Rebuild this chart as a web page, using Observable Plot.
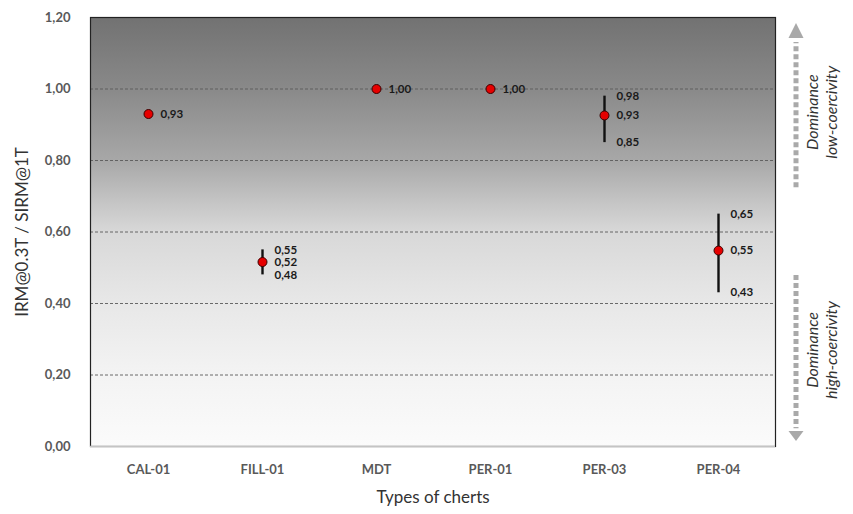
<!DOCTYPE html>
<html><head><meta charset="utf-8">
<script src="https://cdn.jsdelivr.net/npm/d3@7"></script>
<script src="https://cdn.jsdelivr.net/npm/@observablehq/plot@0.6"></script>
<style>body{margin:0;background:#fff;font-family:Lato,"Open Sans",sans-serif;}</style>
</head><body><div id="chart"></div>
<script>
const categories = ["CAL-01","FILL-01","MDT","PER-01","PER-03","PER-04"];
const means = [0.93, 0.516, 1.00, 1.00, 0.926, 0.548];
const meanLabels = ["0,93","0,52","1,00","1,00","0,93","0,55"];
const lows = [null, 0.48, null, null, 0.85, 0.43];
const highs = [null, 0.55, null, null, 0.98, 0.65];
const lowLabels = [null, "0,48", null, null, "0,85", "0,43"];
const highLabels = [null, "0,55", null, null, "0,98", "0,65"];
const yTicks = [0, 0.2, 0.4, 0.6, 0.8, 1.0, 1.2];
const gridTicks = [0.2, 0.4, 0.6, 0.8, 1.0];
const zoneTexts = ["Dominance\nlow-coercivity", "Dominance\nhigh-coercivity"];
const zoneCenters = [0.935, 0.27];
// arrows: [dash start, dash end, head base, head tip]
const arrowUp = [0.724, 1.13, 1.141, 1.183];
const arrowDown = [0.478, 0.05, 0.042, 0.014];

const data = categories.map((c, i) => ({cat: c, mean: means[i], label: meanLabels[i], low: lows[i], high: highs[i], lowLabel: lowLabels[i], highLabel: highLabels[i]}));
const bars = data.filter(d => d.low != null);
const zones = zoneTexts.map((t, i) => ({text: t, y: zoneCenters[i]}));

const fmt = d => d.toFixed(2).replace(".", ",");

const gradientDefs = () => {
  const defs = d3.create("svg:defs");
  const g = defs.append("linearGradient").attr("id", "bg").attr("x1", 0).attr("x2", 0).attr("y1", 0).attr("y2", 1);
  [[0, "#727272"], [0.165, "#898989"], [0.33, "#a7a7a7"], [0.435, "#c6c6c6"], [0.5, "#d8d8d8"], [0.67, "#e8e8e8"], [0.83, "#f3f3f3"], [1, "#fbfbfb"]]
    .forEach(([o, c]) => g.append("stop").attr("offset", o).attr("stop-color", c));
  return defs.node();
};

const arrows = (index, scales, values, dimensions) => {
  const {width, marginRight} = dimensions;
  const x = width - marginRight + 21;
  const y = scales.y;
  const g = d3.create("svg:g");
  const col = "#a9a9a9";
  for (const a of [arrowUp, arrowDown]) {
    g.append("line").attr("x1", x).attr("x2", x).attr("y1", y(a[0])).attr("y2", y(a[1]))
      .attr("stroke", col).attr("stroke-width", 5).attr("stroke-dasharray", "5,3");
    g.append("path").attr("d", `M${x - 7.5},${y(a[2])}L${x + 7.5},${y(a[2])}L${x},${y(a[3])}Z`).attr("fill", col);
  }
  return g.node();
};

const chart = Plot.plot({
  width: 853,
  height: 514,
  marginLeft: 90,
  marginRight: 78,
  marginTop: 17,
  marginBottom: 68,
  style: {fontFamily: "Lato, 'Open Sans', sans-serif", background: "#fff"},
  x: {type: "band", domain: categories, padding: 0},
  y: {domain: [0, 1.2]},
  marks: [
    gradientDefs,
    Plot.frame({fill: "url(#bg)"}),
    Plot.ruleY(gridTicks, {stroke: "#5a5a5a", strokeWidth: 0.9, strokeDasharray: "3,2"}),
    Plot.frame({stroke: "#222", strokeWidth: 1.2}),
    Plot.ruleY([0], {stroke: "#c4c4c4", strokeWidth: 1.5}),
    Plot.axisY({ticks: yTicks, tickFormat: fmt, tickSize: 0, tickPadding: 20, fontWeight: "bold", fontSize: 13, color: "#595959", label: null}),
    Plot.axisX({tickSize: 0, tickPadding: 18, fontWeight: "bold", fontSize: 13, color: "#595959", label: null}),
    Plot.text(["IRM@0.3T / SIRM@1T"], {frameAnchor: "left", textAnchor: "middle", dx: -68, rotate: -90, fontSize: 17, fill: "#333"}),
    Plot.text(["Types of cherts"], {frameAnchor: "bottom", textAnchor: "middle", dy: 56, fontSize: 17, fill: "#333"}),
    Plot.ruleX(bars, {x: "cat", y1: "low", y2: "high", stroke: "#111", strokeWidth: 2.4}),
    Plot.dot(data, {x: "cat", y: "mean", r: 4.5, fill: "#e60000", stroke: "#3a0000", strokeWidth: 1}),
    Plot.text(data, {x: "cat", y: "mean", text: "label", textAnchor: "start", dx: 12, fontWeight: "bold", fontSize: 11.5, fill: "#1a1a1a"}),
    Plot.text(bars, {x: "cat", y: "low", text: "lowLabel", textAnchor: "start", dx: 12, fontWeight: "bold", fontSize: 11.5, fill: "#1a1a1a"}),
    Plot.text(bars, {x: "cat", y: "high", text: "highLabel", textAnchor: "start", dx: 12, fontWeight: "bold", fontSize: 11.5, fill: "#1a1a1a"}),
    arrows,
    Plot.text(zones, {frameAnchor: "right", textAnchor: "middle", y: "y", text: "text", dx: 46, rotate: -90, fontSize: 16, fontStyle: "italic", fill: "#333", lineHeight: 1.15})
  ]
});
document.getElementById("chart").append(chart);
</script></body></html>
